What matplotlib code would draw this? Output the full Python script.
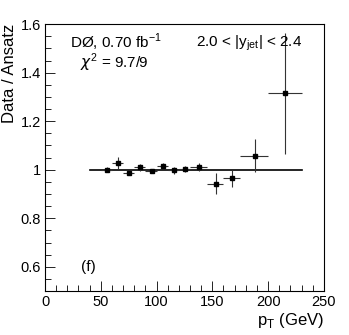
import matplotlib.pyplot as plt
from matplotlib.ticker import MultipleLocator

plt.rcParams['font.family'] = ['Liberation Sans', 'DejaVu Sans']

# data
bin_lo = [50, 60, 70, 80, 90, 100, 110, 120, 130, 145, 160, 175, 200]
bin_hi = [60, 70, 80, 90, 100, 110, 120, 130, 145, 160, 175, 200, 230]
pt = [55.3, 65.1, 75.3, 85.4, 95.6, 105.4, 115.3, 125.4, 137.9, 153.2, 167.8, 187.9, 215.3]
ratio = [1.0, 1.027, 0.988, 1.01, 0.994, 1.014, 0.998, 1.003, 1.011, 0.943, 0.965, 1.058, 1.315]
err = [0.01, 0.025, 0.01, 0.015, 0.008, 0.012, 0.015, 0.012, 0.018, 0.043, 0.034, 0.068, 0.25]
ref_x = [40, 230]
ref_y = [1.0, 1.0]

xerr_lo = [p - lo for p, lo in zip(pt, bin_lo)]
xerr_hi = [hi - p for p, hi in zip(pt, bin_hi)]

fig = plt.figure(figsize=(3.49, 3.35), dpi=100)
ax = fig.add_axes([0.129, 0.131, 0.799, 0.797])

ax.plot(ref_x, ref_y, color='black', lw=1.2)
ax.errorbar(pt, ratio, xerr=[xerr_lo, xerr_hi], yerr=err, fmt='s', color='black',
            ms=3, elinewidth=0.8, capsize=0, ecolor='#333333')

ax.set_xlim(0, 250)
ax.set_ylim(0.5, 1.6)
ax.xaxis.set_major_locator(MultipleLocator(50))
ax.xaxis.set_minor_locator(MultipleLocator(10))
ax.yaxis.set_minor_locator(MultipleLocator(0.05))
ax.set_yticks([0.6, 0.8, 1.0, 1.2, 1.4, 1.6])
ax.set_yticklabels(['0.6', '0.8', '1', '1.2', '1.4', '1.6'])
ax.tick_params(which='both', direction='in', top=False, right=False, labelsize=10.5, pad=3)
ax.tick_params(which='major', length=7, width=0.6)
ax.tick_params(which='minor', length=4, width=0.6)
for s in ax.spines.values():
    s.set_linewidth(0.8)

ax.set_ylabel('Data / Ansatz', fontsize=12, loc='top')
ax.yaxis.set_label_coords(-0.1, 1.0)
ax.set_xlabel(r'p$_\mathregular{T}$ (GeV)', fontsize=12, loc='right', labelpad=1)

ax.text(0.09, 0.93, r'DØ, 0.70 fb$^\mathregular{-1}$', transform=ax.transAxes, fontsize=11, va='center')
ax.text(0.125, 0.855, r'$\chi^\mathregular{2}$ = 9.7/9', transform=ax.transAxes, fontsize=11, va='center')
ax.text(0.54, 0.93, r'2.0 < |y$_\mathregular{jet}$| < 2.4', transform=ax.transAxes, fontsize=11, va='center')
ax.text(0.13, 0.09, '(f)', transform=ax.transAxes, fontsize=11, va='center')

fig.savefig('out.png', dpi=100)
